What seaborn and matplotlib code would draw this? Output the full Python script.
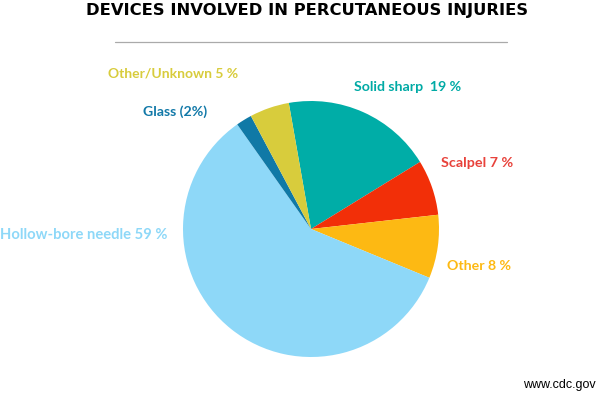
import matplotlib
matplotlib.use("Agg")
import matplotlib.pyplot as plt
import seaborn as sns

categories = ["Solid sharp", "Scalpel", "Other", "Hollow-bore needle", "Glass", "Other/Unknown"]
values = [19, 7, 8, 59, 2, 5]
labels = ["Solid sharp  19 %", "Scalpel 7 %", "Other 8 %", "Hollow-bore needle 59 %", "Glass (2%)", "Other/Unknown 5 %"]
slice_colors = ["#00ADA7", "#F22F08", "#FDB913", "#8ED8F8", "#1079A6", "#D8CC3C"]
label_colors = ["#00AAA5", "#E8423B", "#FDB913", "#8ED8F8", "#1279A8", "#D8CC3C"]
title = "DEVICES INVOLVED IN PERCUTANEOUS INJURIES"
source = "www.cdc.gov"

sns.set_theme(style="white")
palette = sns.color_palette(slice_colors)

W, H = 597, 393
fig = plt.figure(figsize=(W / 100, H / 100), dpi=100)
ax = fig.add_axes([0, 0, 1, 1])

ax.pie(values, colors=palette, startangle=100, counterclock=False,
       center=(311, H - 229), radius=128, frame=True,
       wedgeprops=dict(linewidth=0))
ax.set_xlim(0, W)
ax.set_ylim(0, H)
ax.set_aspect("equal")
ax.axis("off")

# label positions (pixel coords, top-left origin) and sizes
label_pos = [(354, 87, 10.2), (441, 163, 10.4), (447, 266, 10.2),
             (0, 235, 10.6), (143, 112, 10.2), (108, 74, 10.0)]
for lab, col, (x, y, fs) in zip(labels, label_colors, label_pos):
    ax.text(x, H - y, lab, color=col, fontsize=fs, fontweight="bold",
            family="Lato", ha="left", va="center")

ax.text(307, H - 10, title, fontsize=11.8, fontweight="bold",
        family="DejaVu Sans", ha="center", va="center", color="black")
ax.plot([115, 507], [H - 42, H - 42], color="#AAAAAA", linewidth=0.9)
ax.text(596, H - 385, source, fontsize=9, family="Liberation Sans",
        ha="right", va="center", color="black")

fig.savefig("out.png", dpi=100)
